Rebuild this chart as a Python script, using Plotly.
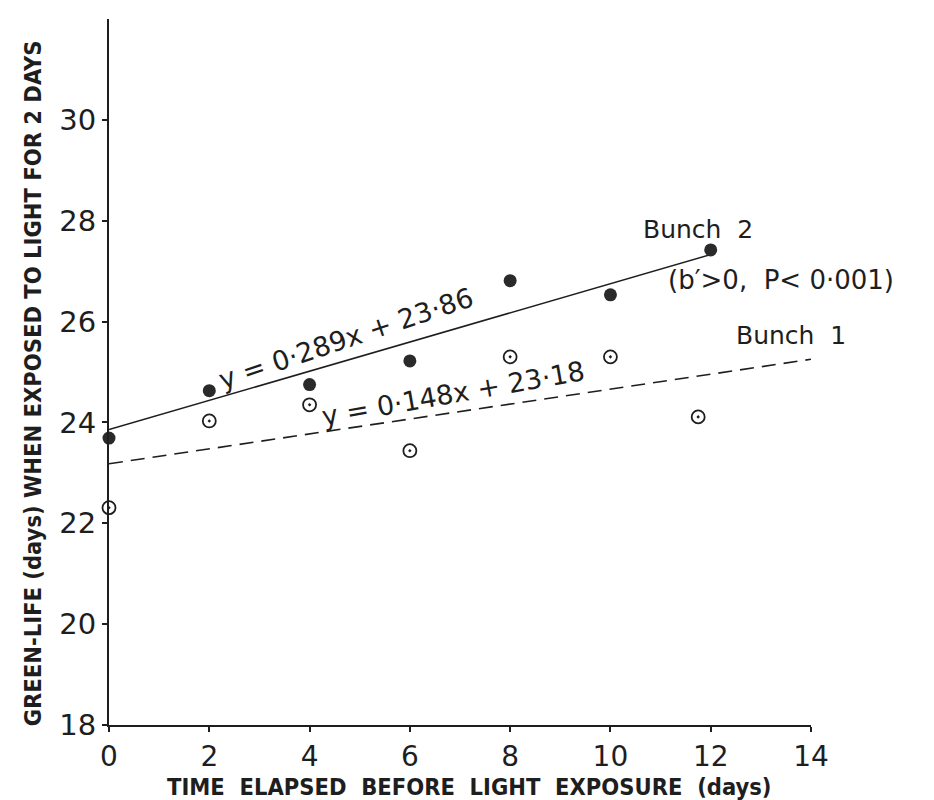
import plotly.graph_objects as go

# Data
days_b2 = [0, 2, 4, 6, 8, 10, 12]
green_b2 = [23.69, 24.63, 24.75, 25.22, 26.81, 26.53, 27.42]
days_b1 = [0, 2, 4, 6, 8, 10, 11.75]
green_b1 = [22.31, 24.03, 24.35, 23.44, 25.30, 25.30, 24.11]

# regression lines (slope, intercept, x-range)
b2_slope, b2_int, b2_x = 0.289, 23.86, [0, 12]
b1_slope, b1_int, b1_x = 0.148, 23.18, [0, 14]

x_ticks = [0, 2, 4, 6, 8, 10, 12, 14]
y_ticks = [18, 20, 22, 24, 26, 28, 30]

INK = "#1e1e1e"
TXT_FONT = "DejaVu Sans"
COND = "DejaVu Sans Condensed, Liberation Sans Narrow, DejaVu Sans"

fig = go.Figure()
fig.add_trace(go.Scatter(x=b2_x, y=[b2_int + b2_slope * v for v in b2_x], mode="lines",
                         line=dict(color=INK, width=1.6), showlegend=False, cliponaxis=False))
fig.add_trace(go.Scatter(x=b1_x, y=[b1_int + b1_slope * v for v in b1_x], mode="lines",
                         line=dict(color=INK, width=1.6, dash="14px,8px"), showlegend=False, cliponaxis=False))
fig.add_trace(go.Scatter(x=days_b2, y=green_b2, mode="markers",
                         marker=dict(symbol="circle", size=13, color="#2a2a2a", line=dict(width=0)),
                         showlegend=False, cliponaxis=False))
fig.add_trace(go.Scatter(x=days_b1, y=green_b1, mode="markers",
                         marker=dict(symbol="circle-open-dot", size=13, color=INK, line=dict(width=1.8)),
                         showlegend=False, cliponaxis=False))

fig.update_layout(
    width=934, height=800,
    margin=dict(l=101, r=131, t=11, b=83),
    paper_bgcolor="white", plot_bgcolor="white",
    font=dict(family=TXT_FONT, color=INK),
    xaxis=dict(range=[0, 14], tickvals=x_ticks, ticktext=[str(v) for v in x_ticks],
               showgrid=False, zeroline=False, showline=True, linecolor=INK, linewidth=2,
               ticks="outside", ticklen=5, tickcolor=INK, tickwidth=1.5,
               tickfont=dict(family=TXT_FONT, size=28, color=INK)),
    yaxis=dict(range=[18, 32], tickvals=y_ticks, ticktext=[str(v) for v in y_ticks],
               showgrid=False, zeroline=False, showline=True, linecolor=INK, linewidth=2,
               ticks="outside", ticklen=5, tickcolor=INK, tickwidth=1.5,
               tickfont=dict(family=TXT_FONT, size=29, color=INK)),
)

ann = [
    dict(text="Bunch  2", x=11.75, y=27.82, size=25),
    dict(text="(b′>0,  P< 0·001)", x=13.4, y=26.82, size=26),
    dict(text="Bunch  1", x=13.6, y=25.73, size=25),
    dict(text="(b′>0,  P< 0·05)", x=14.3, y=24.64, size=26),
]
for a in ann:
    fig.add_annotation(text=a["text"], x=a["x"], y=a["y"], xref="x", yref="y",
                       showarrow=False, font=dict(family=TXT_FONT, size=a["size"], color=INK))

fig.add_annotation(text="y = 0·289x + 23·86", x=4.72, y=25.66, xref="x", yref="y",
                   showarrow=False, textangle=-18.5,
                   font=dict(family=TXT_FONT, size=27, color=INK))
fig.add_annotation(text="y = 0·148x + 23·18", x=6.86, y=24.58, xref="x", yref="y",
                   showarrow=False, textangle=-10,
                   font=dict(family=TXT_FONT, size=27, color=INK))

fig.add_annotation(text="TIME  ELAPSED  BEFORE  LIGHT  EXPOSURE  (days)",
                   x=0.514, y=0, xref="paper", yref="paper", xanchor="center", yanchor="middle",
                   yshift=-62, showarrow=False,
                   font=dict(family=COND, size=23.5, color=INK, weight="bold"))
fig.add_annotation(text="GREEN-LIFE (days) WHEN EXPOSED TO LIGHT FOR 2 DAYS",
                   x=0, y=0.484, xref="paper", yref="paper", xanchor="center", yanchor="middle",
                   xshift=-76, textangle=-90, showarrow=False,
                   font=dict(family=COND, size=23.5, color=INK, weight="bold"))

fig.write_html("out.html")
